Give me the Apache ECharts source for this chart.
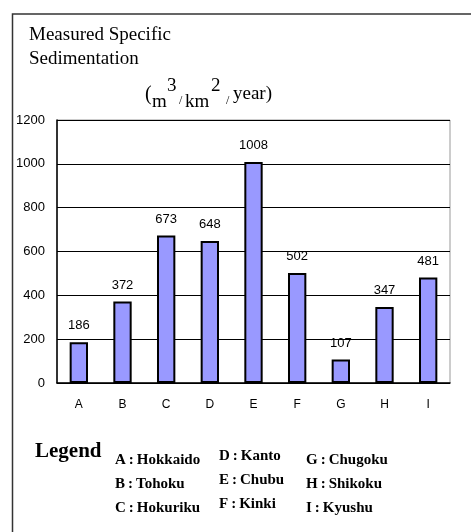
<!DOCTYPE html>
<html>
<head>
<meta charset="utf-8">
<script src="https://cdn.jsdelivr.net/npm/echarts@6/dist/echarts.min.js"></script>
<style>
  html, body { margin: 0; padding: 0; background: #fff; }
  #chart { width: 471px; height: 532px; }
</style>
</head>
<body>
<div id="chart"></div>
<script>
// data
const regions = ['A', 'B', 'C', 'D', 'E', 'F', 'G', 'H', 'I'];
const sedimentation = [186, 372, 673, 648, 1008, 502, 107, 347, 481];
const legendCol1 = ['A\u2009:\u2009Hokkaido', 'B\u2009:\u2009Tohoku', 'C\u2009:\u2009Hokuriku'];
const legendCol2 = ['D\u2009:\u2009Kanto', 'E\u2009:\u2009Chubu', 'F\u2009:\u2009Kinki'];
const legendCol3 = ['G\u2009:\u2009Chugoku', 'H\u2009:\u2009Shikoku', 'I\u2009:\u2009Kyushu'];

const serif = '"Liberation Serif", "DejaVu Serif", serif';
const sans = '"Liberation Sans", Arial, sans-serif';

const txt = (x, y, text, size, extra = {}) => ({
    type: 'text',
    left: x,
    top: y,
    style: {
        text,
        font: `${extra.bold ? 'bold ' : ''}${size}px ${serif}`,
        fill: '#000',
    },
});

// legend lines, stacked per column
const legendTexts = [];
[[legendCol1, 115, 453], [legendCol2, 219, 449], [legendCol3, 306, 453]].forEach(([col, x, y0]) => {
    col.forEach((t, i) => legendTexts.push(txt(x, y0 + i * 24, t, 15, {bold: true})));
});

const chart = echarts.init(document.getElementById('chart'));
chart.setOption({
    animation: false,
    grid: {
        left: 57, right: 21, top: 120, bottom: 149,
        show: true,
        borderColor: '#999',
        borderWidth: 1,
        backgroundColor: 'transparent',
    },
    xAxis: {
        type: 'category',
        data: regions,
        axisLine: {lineStyle: {color: '#000', width: 1.5}},
        axisTick: {inside: true, length: 4, lineStyle: {color: '#000'}},
        axisLabel: {color: '#000', fontFamily: sans, fontSize: 12, margin: 16},
    },
    yAxis: {
        type: 'value',
        min: 0,
        max: 1200,
        interval: 200,
        axisLine: {show: true, lineStyle: {color: '#000', width: 1.5}},
        axisTick: {show: false},
        axisLabel: {color: '#000', fontFamily: sans, fontSize: 13, margin: 12, formatter: (v) => String(v)},
        splitLine: {lineStyle: {color: '#000', width: 1}},
    },
    series: [{
        type: 'bar',
        data: sedimentation,
        barWidth: '42%',
        itemStyle: {color: '#9999ff', borderColor: '#000', borderWidth: 2},
        label: {
            show: true,
            position: 'top',
            distance: 10,
            color: '#000',
            fontFamily: sans,
            fontSize: 13,
        },
    }],
    graphic: [
        {
            type: 'polyline',
            shape: {points: [[12.5, 532], [12.5, 14], [471, 14]]},
            style: {stroke: '#333', lineWidth: 1.5, fill: null},
        },
        txt(29, 26, 'Measured Specific', 19),
        txt(29, 50, 'Sedimentation', 19),
        // unit: ( m^3 / km^2 / year )
        txt(145, 85, '(', 20),
        txt(152, 93, 'm', 19),
        txt(167, 77, '3', 19),
        txt(179, 95, '/', 12),
        txt(185, 93, 'km', 19),
        txt(211, 77, '2', 19),
        txt(226, 95, '/', 12),
        txt(233, 85, 'year)', 19),
        txt(35, 441, 'Legend', 21, {bold: true}),
        ...legendTexts,
    ],
});
</script>
</body>
</html>
